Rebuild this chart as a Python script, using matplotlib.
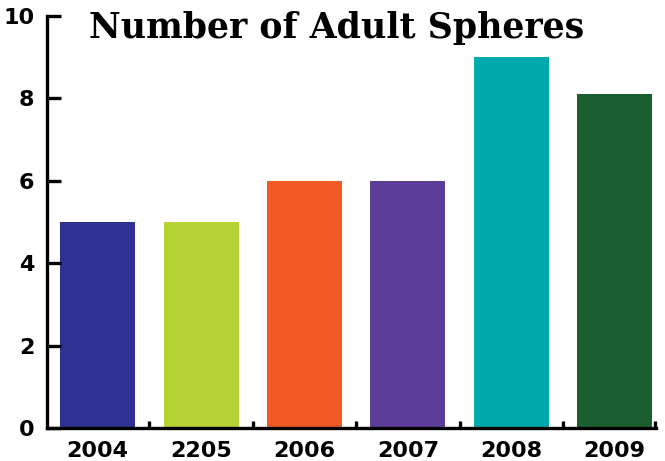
import matplotlib
matplotlib.use("Agg")
import matplotlib.pyplot as plt
import numpy as np

# data
years = ["2004", "2205", "2006", "2007", "2008", "2009"]
spheres = [5, 5, 6, 6, 9, 8.1]
colors = ["#2E3192", "#B5D334", "#F15A24", "#5C3D99", "#00A9AC", "#1B5E30"]

fig = plt.figure(figsize=(6.65, 4.61), dpi=100)
ax = fig.add_axes([47 / 665, 33 / 461, (656 - 47) / 665, (428 - 16) / 461])

x = np.arange(len(years))
ax.bar(x, spheres, width=0.725, color=colors)

# spines
for s in ["top", "right"]:
    ax.spines[s].set_visible(False)
for s in ["left", "bottom"]:
    ax.spines[s].set_linewidth(2.4)

ax.set_yticks([0, 2, 4, 6, 8, 10])
ax.tick_params(axis="y", direction="in", length=10, width=2.4, pad=9,
               labelsize=16)
ax.set_xticks(x)
ax.set_xticklabels(years)
ax.tick_params(axis="x", length=0, pad=9, labelsize=16)
# boundary ticks on x axis, last one at the axis end
ax.set_xticks(list(np.arange(0.5, 5, 1)) + [5.39], minor=True)
ax.tick_params(axis="x", which="minor", direction="in", length=5, width=2.4)

ax.set_xlim(-0.49, 5.4)
ax.set_ylim(0, 10)

for lbl in ax.get_xticklabels() + ax.get_yticklabels():
    lbl.set_fontweight("bold")

fig.text(0.506, 0.94, "Number of Adult Spheres", ha="center", va="center",
         fontsize=25, fontweight="bold", family="DejaVu Serif")

fig.savefig("out.png", dpi=100)
